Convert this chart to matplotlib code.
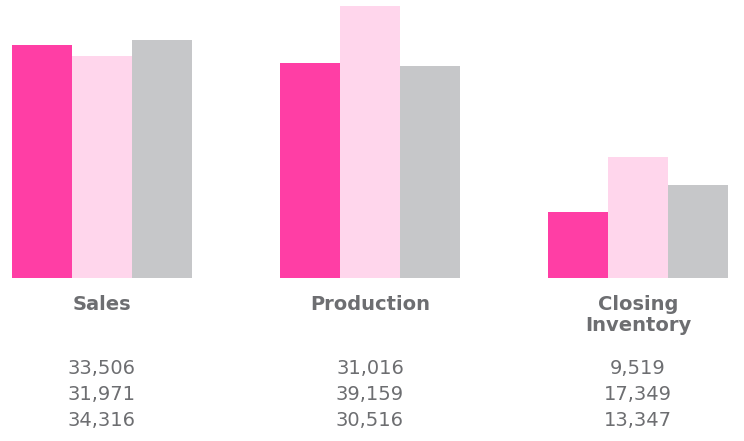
import matplotlib.pyplot as plt
import matplotlib.transforms as mtransforms
import numpy as np

categories = ["Sales", "Production", "Closing\nInventory"]
series_a = [33506, 31016, 9519]
series_b = [31971, 39159, 17349]
series_c = [34316, 30516, 13347]
colors = ["#FF3EA5", "#FFD6EC", "#C6C7C9"]
text_color = "#6D6E71"

plt.rcParams['font.family'] = ['DejaVu Sans']

fig = plt.figure(figsize=(7.44, 4.41), dpi=100)
W, H = 744, 441
ax = fig.add_axes([12 / W, 1 - 278 / H, (728 - 12) / W, (278 - 6) / H])

x = np.arange(len(categories))
w = 60 / 268
for i, (vals, c) in enumerate(zip([series_a, series_b, series_c], colors)):
    ax.bar(x + (i - 1) * w, vals, width=w, color=c, linewidth=0)

ax.set_xlim(-90 / 268, 2 + 90 / 268)
ax.set_ylim(0, max(series_b))
ax.axis("off")

trans = mtransforms.blended_transform_factory(ax.transData, fig.transFigure)
for i, cat in enumerate(categories):
    ax.text(x[i], 1 - 295 / H, cat, transform=trans, ha="center", va="top",
            fontsize=14, fontweight="bold", color=text_color, linespacing=1.15)
    for j, vals in enumerate([series_a, series_b, series_c]):
        ax.text(x[i], 1 - (368 + j * 26) / H, f"{vals[i]:,}", transform=trans,
                ha="center", va="center", fontsize=14, color=text_color)

fig.savefig("out.png", dpi=100)
